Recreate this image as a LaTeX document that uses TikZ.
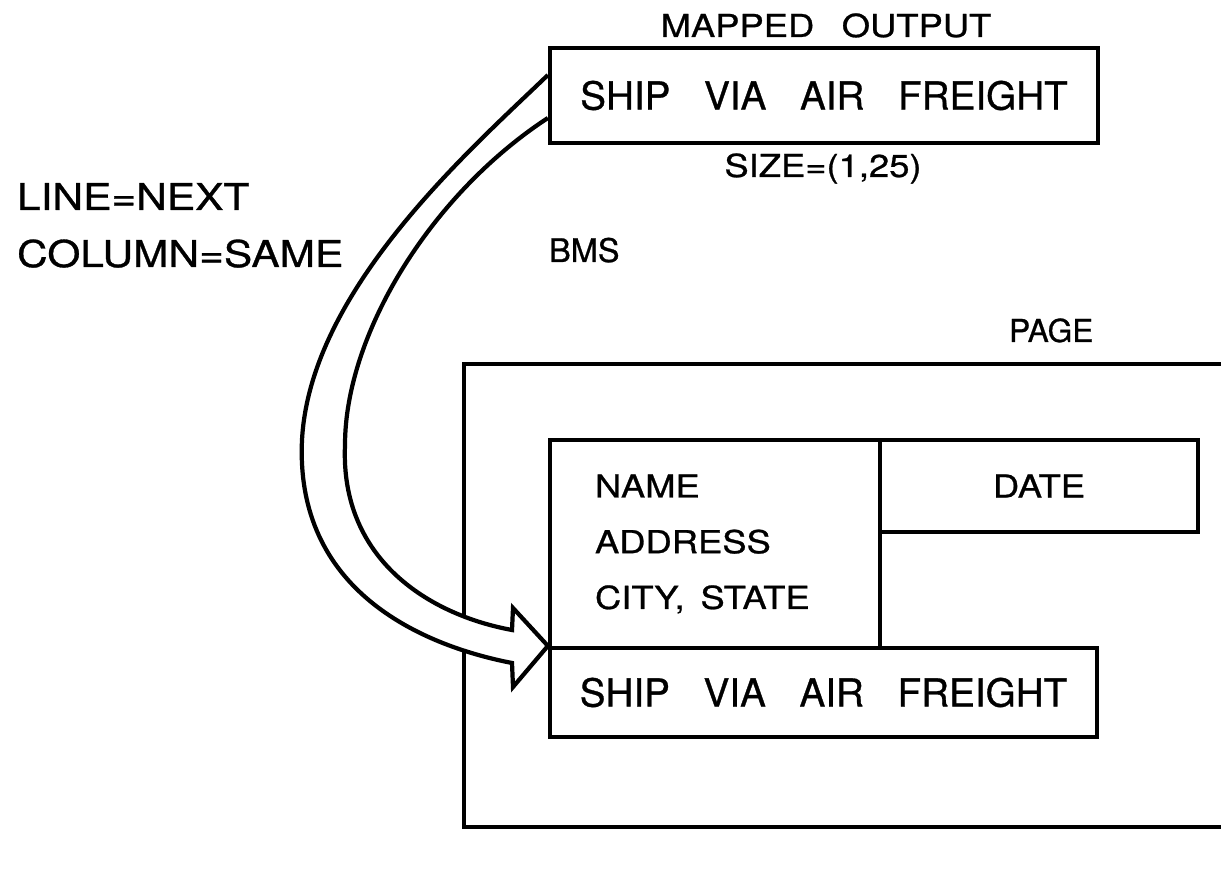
\documentclass[tikz,border=0pt]{standalone}
\usepackage{fontspec}
\setmainfont{TeX Gyre Heros}[FakeBold=0.8]
\newfontfamily\widesans{TeX Gyre Heros}[FakeStretch=1.15, FakeBold=0.8]
\newcommand{\wgap}{\hspace{0.87em}}
\tikzset{
  box/.style={draw, rectangle, inner sep=0pt},
  lbl/.style={inner sep=0pt},
  bigtxt/.style={font=\fontsize{22}{26}\selectfont},
  midtxt/.style={font=\widesans\fontsize{18}{31.7}\selectfont},
  sidetxt/.style={font=\widesans\fontsize{21}{25}\selectfont},
  hollow/.style={draw, fill=white, line join=miter},
}

\begin{document}
\begin{tikzpicture}[line width=2.4pt]
\useasboundingbox (0,0) rectangle (24.42,17.66);
% page outline, runs off the right edge
\draw (24.42,10.38) -- (9.28,10.38) -- (9.28,1.12) -- (24.42,1.12);
% boxes
\node[box, bigtxt, minimum width=10.96cm, minimum height=1.90cm] (mapped) at (16.48,15.75) {SHIP\wgap VIA\wgap AIR\wgap FREIGHT};
\node[box, midtxt, minimum width=6.6cm, minimum height=4.16cm, text width=4.8cm, align=left] (namebox) at (14.30,6.78) {NAME\\ADDRESS\\CITY,\hspace{0.5em}STATE};
\node[box, midtxt, minimum width=6.36cm, minimum height=1.84cm] (datebox) at (20.78,7.94) {DATE};
\node[box, bigtxt, minimum width=10.94cm, minimum height=1.78cm] (shipbox) at (16.47,3.81) {SHIP\wgap VIA\wgap AIR\wgap FREIGHT};
% labels
\node[lbl, midtxt, anchor=base] (mappedlbl) at (16.52,16.92) {MAPPED\wgap OUTPUT};
\node[lbl, midtxt, anchor=base] (sizelbl) at (16.46,14.12) {SIZE=(1,25)};
\node[lbl, sidetxt, anchor=base west] (linelbl) at (0.30,13.46) {LINE=NEXT};
\node[lbl, sidetxt, anchor=base west] (columnlbl) at (0.30,12.32) {COLUMN=SAME};
\node[lbl, font=\fontsize{18.5}{22}\selectfont, anchor=base west] (bmslbl) at (10.94,12.42) {BMS};
\node[lbl, font=\fontsize{18}{22}\selectfont, anchor=base west] (pagelbl) at (20.14,10.82) {PAGE};
% hollow curved arrow from mapped output to the page
\draw[hollow] ([yshift=4.1mm]mapped.west)
  .. controls (9.40,14.66) and (6.20,11.86) .. (6.04,8.86)
  .. controls (5.90,5.86) and (8.40,4.76) .. (10.24,4.40)
  -- (10.26,3.92) -- (shipbox.north west) -- (10.26,5.50) -- (10.24,5.06)
  .. controls (8.60,5.36) and (6.80,6.46) .. (6.90,8.76)
  .. controls (6.90,10.96) and (8.60,13.76) .. ([yshift=-4.5mm]mapped.west);
\end{tikzpicture}
\end{document}
